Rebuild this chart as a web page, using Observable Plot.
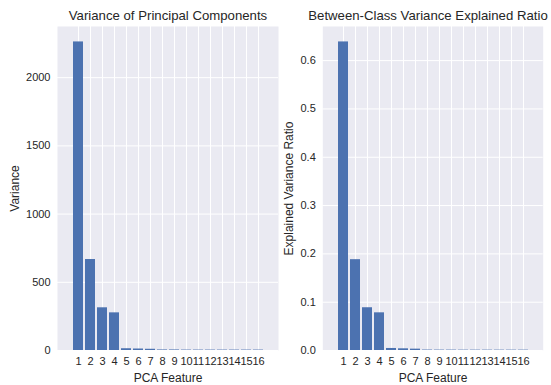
<!DOCTYPE html>
<html>
<head>
<meta charset="utf-8">
<script src="https://cdn.jsdelivr.net/npm/d3@7"></script>
<script src="https://cdn.jsdelivr.net/npm/@observablehq/plot@0.6"></script>
<style>
  html, body { margin: 0; padding: 0; background: #fff; }
  #wrap { position: relative; width: 551px; height: 385px; overflow: hidden; }
  #wrap svg { position: absolute; top: 0; }
</style>
</head>
<body>
<div id="wrap"></div>
<script>
const features = ["1","2","3","4","5","6","7","8","9","10","11","12","13","14","15","16"];
const variance = [2262, 667, 313, 276, 13, 11, 9, 4, 4, 3, 3, 3, 3, 3, 3, 3];
const ratio = [0.6387, 0.188, 0.0885, 0.078, 0.0042, 0.0035, 0.0028, 0.0009, 0.0008, 0.0008, 0.0007, 0.0007, 0.0007, 0.0007, 0.0007, 0.0007];
const leftTicks = [0, 500, 1000, 1500, 2000];
const rightTicks = [0, 0.1, 0.2, 0.3, 0.4, 0.5, 0.6];

const FONT = "'Liberation Sans', Arial, sans-serif";
const INK = "#262626";
const BG = "#EAEAF2";
const BAR = "#4C72B0";

function panel({values, ticks, fmt, title, titleDx, ylabel, left, width, marginLeft, marginRight, ylabelDx}) {
  const data = features.map((f, i) => ({f, v: values[i]}));
  const ymax = d3.max(values) * 1.05;
  const svg = Plot.plot({
    width, height: 385,
    marginLeft, marginRight, marginTop: 26, marginBottom: 35,
    style: {background: "transparent", overflow: "visible", fontFamily: FONT, color: INK},
    x: {domain: features, paddingInner: 0.2, paddingOuter: 0.79, label: null},
    y: {domain: [0, ymax], label: null},
    marks: [
      Plot.frame({fill: BG, stroke: null}),
      Plot.gridY(ticks, {stroke: "#fff", strokeOpacity: 1, strokeWidth: 1}),
      Plot.gridX(features, {stroke: "#fff", strokeOpacity: 1, strokeWidth: 1}),
      Plot.barY(data, {x: "f", y: "v", fill: BAR}),
      Plot.axisY(ticks, {tickSize: 0, tickPadding: 7, tickFormat: fmt, fontSize: 11, fill: INK, label: null}),
      Plot.axisX(features, {tickSize: 0, tickPadding: 7, fontSize: 11, fill: INK, label: null}),
      Plot.text([title], {frameAnchor: "top", dx: titleDx, dy: -11, lineAnchor: "middle", fontSize: 13.2, fill: INK}),
      Plot.text([ylabel], {frameAnchor: "left", dx: ylabelDx, rotate: -90, lineAnchor: "middle", textAnchor: "middle", fontSize: 12, fill: INK}),
      Plot.text(["PCA Feature"], {frameAnchor: "bottom", dy: 28, lineAnchor: "middle", fontSize: 12, fill: INK})
    ]
  });
  svg.style.left = left + "px";
  return svg;
}

const wrap = document.getElementById("wrap");
wrap.appendChild(panel({
  values: variance, ticks: leftTicks, fmt: d3.format("d"),
  title: "Variance of Principal Components", titleDx: 0, ylabel: "Variance",
  left: 0, width: 285, marginLeft: 57, marginRight: 7, ylabelDx: -42
}));
wrap.appendChild(panel({
  values: ratio, ticks: rightTicks, fmt: d3.format(".1f"),
  title: "Between-Class Variance Explained Ratio", titleDx: -5, ylabel: "Explained Variance Ratio",
  left: 280, width: 271, marginLeft: 42.3, marginRight: 8.3, ylabelDx: -34
}));
</script>
</body>
</html>
